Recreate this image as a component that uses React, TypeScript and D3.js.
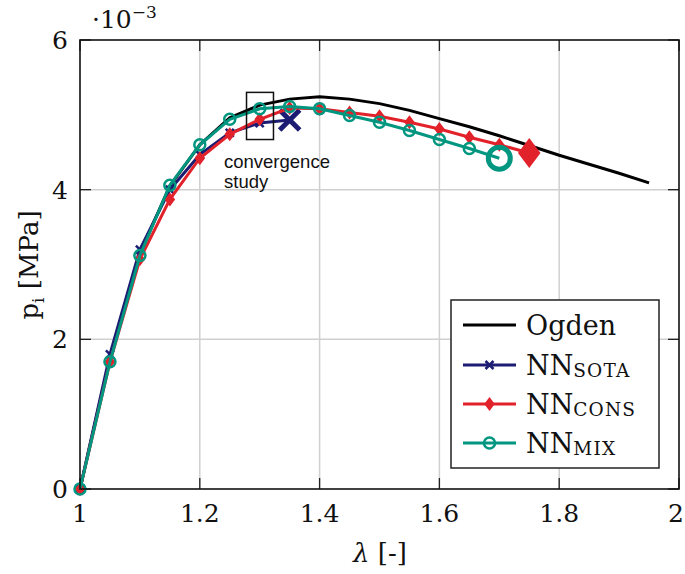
import React from "react";
import * as d3 from "d3";

const ogdenX = [1.0, 1.05, 1.1, 1.15, 1.2, 1.25, 1.3, 1.35, 1.4, 1.45, 1.5, 1.55, 1.6, 1.65, 1.7, 1.75, 1.8, 1.85, 1.9, 1.95];
const ogdenY = [0, 1.75, 3.15, 4.05, 4.6, 4.96, 5.13, 5.21, 5.24, 5.21, 5.15, 5.06, 4.95, 4.84, 4.72, 4.59, 4.46, 4.34, 4.22, 4.09];

const sotaX = [1.0, 1.05, 1.1, 1.15, 1.2, 1.25, 1.3, 1.35];
const sotaY = [0, 1.8, 3.2, 4.0, 4.47, 4.76, 4.89, 4.93];

const consX = [1.0, 1.05, 1.1, 1.15, 1.2, 1.25, 1.3, 1.35, 1.4, 1.45, 1.5, 1.55, 1.6, 1.65, 1.7, 1.75];
const consY = [0, 1.7, 3.07, 3.87, 4.42, 4.74, 4.94, 5.09, 5.08, 5.03, 4.98, 4.9, 4.81, 4.7, 4.6, 4.49];

const mixX = [1.0, 1.05, 1.1, 1.15, 1.2, 1.25, 1.3, 1.35, 1.4, 1.45, 1.5, 1.55, 1.6, 1.65, 1.7];
const mixY = [0, 1.7, 3.12, 4.06, 4.6, 4.94, 5.08, 5.11, 5.08, 4.99, 4.9, 4.79, 4.67, 4.55, 4.42];

const xTicks = [1, 1.2, 1.4, 1.6, 1.8, 2];
const xTickLabels = ["1", "1.2", "1.4", "1.6", "1.8", "2"];
const yTicks = [0, 2, 4, 6];
const yTickLabels = ["0", "2", "4", "6"];

const NAVY = "#1c1c73";
const RED = "#e2222b";
const TEAL = "#00967f";
const SERIF = "DejaVu Serif";
const SANS = "Liberation Sans, Arial, sans-serif";

export default function App() {
  const left = 80, right = 679, top = 40, bottom = 489;
  const x = d3.scaleLinear().domain([1, 2]).range([left, right]);
  const y = d3.scaleLinear().domain([0, 6]).range([bottom, top]);
  const line = (xs: number[], ys: number[]) =>
    d3.line<number>().x((_, i) => x(xs[i])).y((_, i) => y(ys[i]))(xs) || "";

  const cross = (cx: number, cy: number, s: number, w: number, key: string) => (
    <path key={key} d={`M${cx - s},${cy - s}L${cx + s},${cy + s}M${cx - s},${cy + s}L${cx + s},${cy - s}`} stroke={NAVY} strokeWidth={w} />
  );
  const diamond = (cx: number, cy: number, s: number, key: string) => (
    <path key={key} d={`M${cx},${cy - s}L${cx + s * 0.75},${cy}L${cx},${cy + s}L${cx - s * 0.75},${cy}Z`} fill={RED} />
  );
  const circle = (cx: number, cy: number, r: number, w: number, key: string) => (
    <circle key={key} cx={cx} cy={cy} r={r} fill="none" stroke={TEAL} strokeWidth={w} />
  );

  const tickLen = 11;
  const legendRows = [325, 365, 404, 443];
  const serif = { fontFamily: SERIF };
  const sub = { fontFamily: SERIF, letterSpacing: 1.2 };

  return (
    <svg width={685} height={574} style={{ position: "absolute", left: 0, top: 0 }}>
      <rect x={0} y={0} width={685} height={574} fill="#fff" />
      {xTicks.slice(1, -1).map((t) => (
        <line key={"gx" + t} x1={x(t)} x2={x(t)} y1={top} y2={bottom} stroke="#d0d0d0" strokeWidth={1.5} />
      ))}
      {yTicks.slice(1, -1).map((t) => (
        <line key={"gy" + t} x1={left} x2={right} y1={y(t)} y2={y(t)} stroke="#d0d0d0" strokeWidth={1.5} />
      ))}
      {xTicks.map((t) => (
        <g key={"tx" + t}>
          <line x1={x(t)} x2={x(t)} y1={bottom} y2={bottom - tickLen} stroke="#222" strokeWidth={1.3} />
          <line x1={x(t)} x2={x(t)} y1={top} y2={top + tickLen} stroke="#222" strokeWidth={1.3} />
        </g>
      ))}
      {yTicks.map((t) => (
        <g key={"ty" + t}>
          <line x1={left} x2={left + tickLen} y1={y(t)} y2={y(t)} stroke="#222" strokeWidth={1.3} />
          <line x1={right} x2={right - tickLen} y1={y(t)} y2={y(t)} stroke="#222" strokeWidth={1.3} />
        </g>
      ))}
      <path d={line(ogdenX, ogdenY)} fill="none" stroke="#000" strokeWidth={3} />
      <path d={line(sotaX, sotaY)} fill="none" stroke={NAVY} strokeWidth={3} />
      {sotaX.slice(0, -1).map((v, i) => cross(x(v), y(sotaY[i]), 4, 2.5, "s" + i))}
      {cross(x(sotaX[sotaX.length - 1]), y(sotaY[sotaY.length - 1]), 10, 5, "sbig")}
      <path d={line(consX, consY)} fill="none" stroke={RED} strokeWidth={3} />
      {consX.slice(0, -1).map((v, i) => diamond(x(v), y(consY[i]), 7, "c" + i))}
      {diamond(x(consX[consX.length - 1]), y(consY[consY.length - 1]), 15, "cbig")}
      <path d={line(mixX, mixY)} fill="none" stroke={TEAL} strokeWidth={3} />
      {mixX.slice(0, -1).map((v, i) => circle(x(v), y(mixY[i]), 5.5, 2.5, "m" + i))}
      {circle(x(mixX[mixX.length - 1]), y(mixY[mixY.length - 1]), 11, 5, "mbig")}
      <rect x={left} y={top} width={right - left} height={bottom - top} fill="none" stroke="#111" strokeWidth={1.6} />
      <rect x={x(1.278)} y={y(5.3)} width={x(1.323) - x(1.278)} height={y(4.67) - y(5.3)} fill="none" stroke="#111" strokeWidth={1.5} />
      <text x={224} y={168} style={{ fontFamily: SANS }} fontSize={18.5} fill="#111">convergence</text>
      <text x={224} y={188} style={{ fontFamily: SANS }} fontSize={18.5} fill="#111">study</text>
      {xTicks.map((t, i) => (
        <text key={"xl" + t} x={Math.min(x(t), 676)} y={522} textAnchor="middle" style={serif} fontSize={25} fill="#111">{xTickLabels[i]}</text>
      ))}
      {yTicks.map((t, i) => (
        <text key={"yl" + t} x={68} y={y(t) + 9} textAnchor="end" style={serif} fontSize={25} fill="#111">{yTickLabels[i]}</text>
      ))}
      <text x={92} y={28} style={serif} fontSize={25} fill="#111">
        ·10<tspan dy={-10} fontSize={17}>−3</tspan>
      </text>
      <text x={380} y={562} textAnchor="middle" style={serif} fontSize={26} fill="#111">
        <tspan fontStyle="italic">λ</tspan> [-]
      </text>
      <text transform="translate(38,265) rotate(-90)" textAnchor="middle" style={serif} fontSize={26} fill="#111">
        p<tspan dy={6} fontSize={17}>i</tspan><tspan dy={-6}> [MPa]</tspan>
      </text>
      <rect x={451} y={300} width={208} height={168} fill="#fff" stroke="#222" strokeWidth={1.5} />
      <line x1={463} x2={516} y1={legendRows[0]} y2={legendRows[0]} stroke="#000" strokeWidth={3} />
      <line x1={463} x2={516} y1={legendRows[1]} y2={legendRows[1]} stroke={NAVY} strokeWidth={3} />
      {cross(489.5, legendRows[1], 4, 2.5, "ls")}
      <line x1={463} x2={516} y1={legendRows[2]} y2={legendRows[2]} stroke={RED} strokeWidth={3} />
      {diamond(489.5, legendRows[2], 7, "lc")}
      <line x1={463} x2={516} y1={legendRows[3]} y2={legendRows[3]} stroke={TEAL} strokeWidth={3} />
      {circle(489.5, legendRows[3], 5.5, 2.5, "lm")}
      <text x={526} y={legendRows[0] + 10} style={serif} fontSize={27} fill="#111">Ogden</text>
      <text x={526} y={legendRows[1] + 10} style={serif} fontSize={27} fill="#111">NN<tspan dy={2} fontSize={18.5} style={sub}>SOTA</tspan></text>
      <text x={526} y={legendRows[2] + 10} style={serif} fontSize={27} fill="#111">NN<tspan dy={2} fontSize={18.5} style={sub}>CONS</tspan></text>
      <text x={526} y={legendRows[3] + 10} style={serif} fontSize={27} fill="#111">NN<tspan dy={2} fontSize={18.5} style={sub}>MIX</tspan></text>
    </svg>
  );
}
